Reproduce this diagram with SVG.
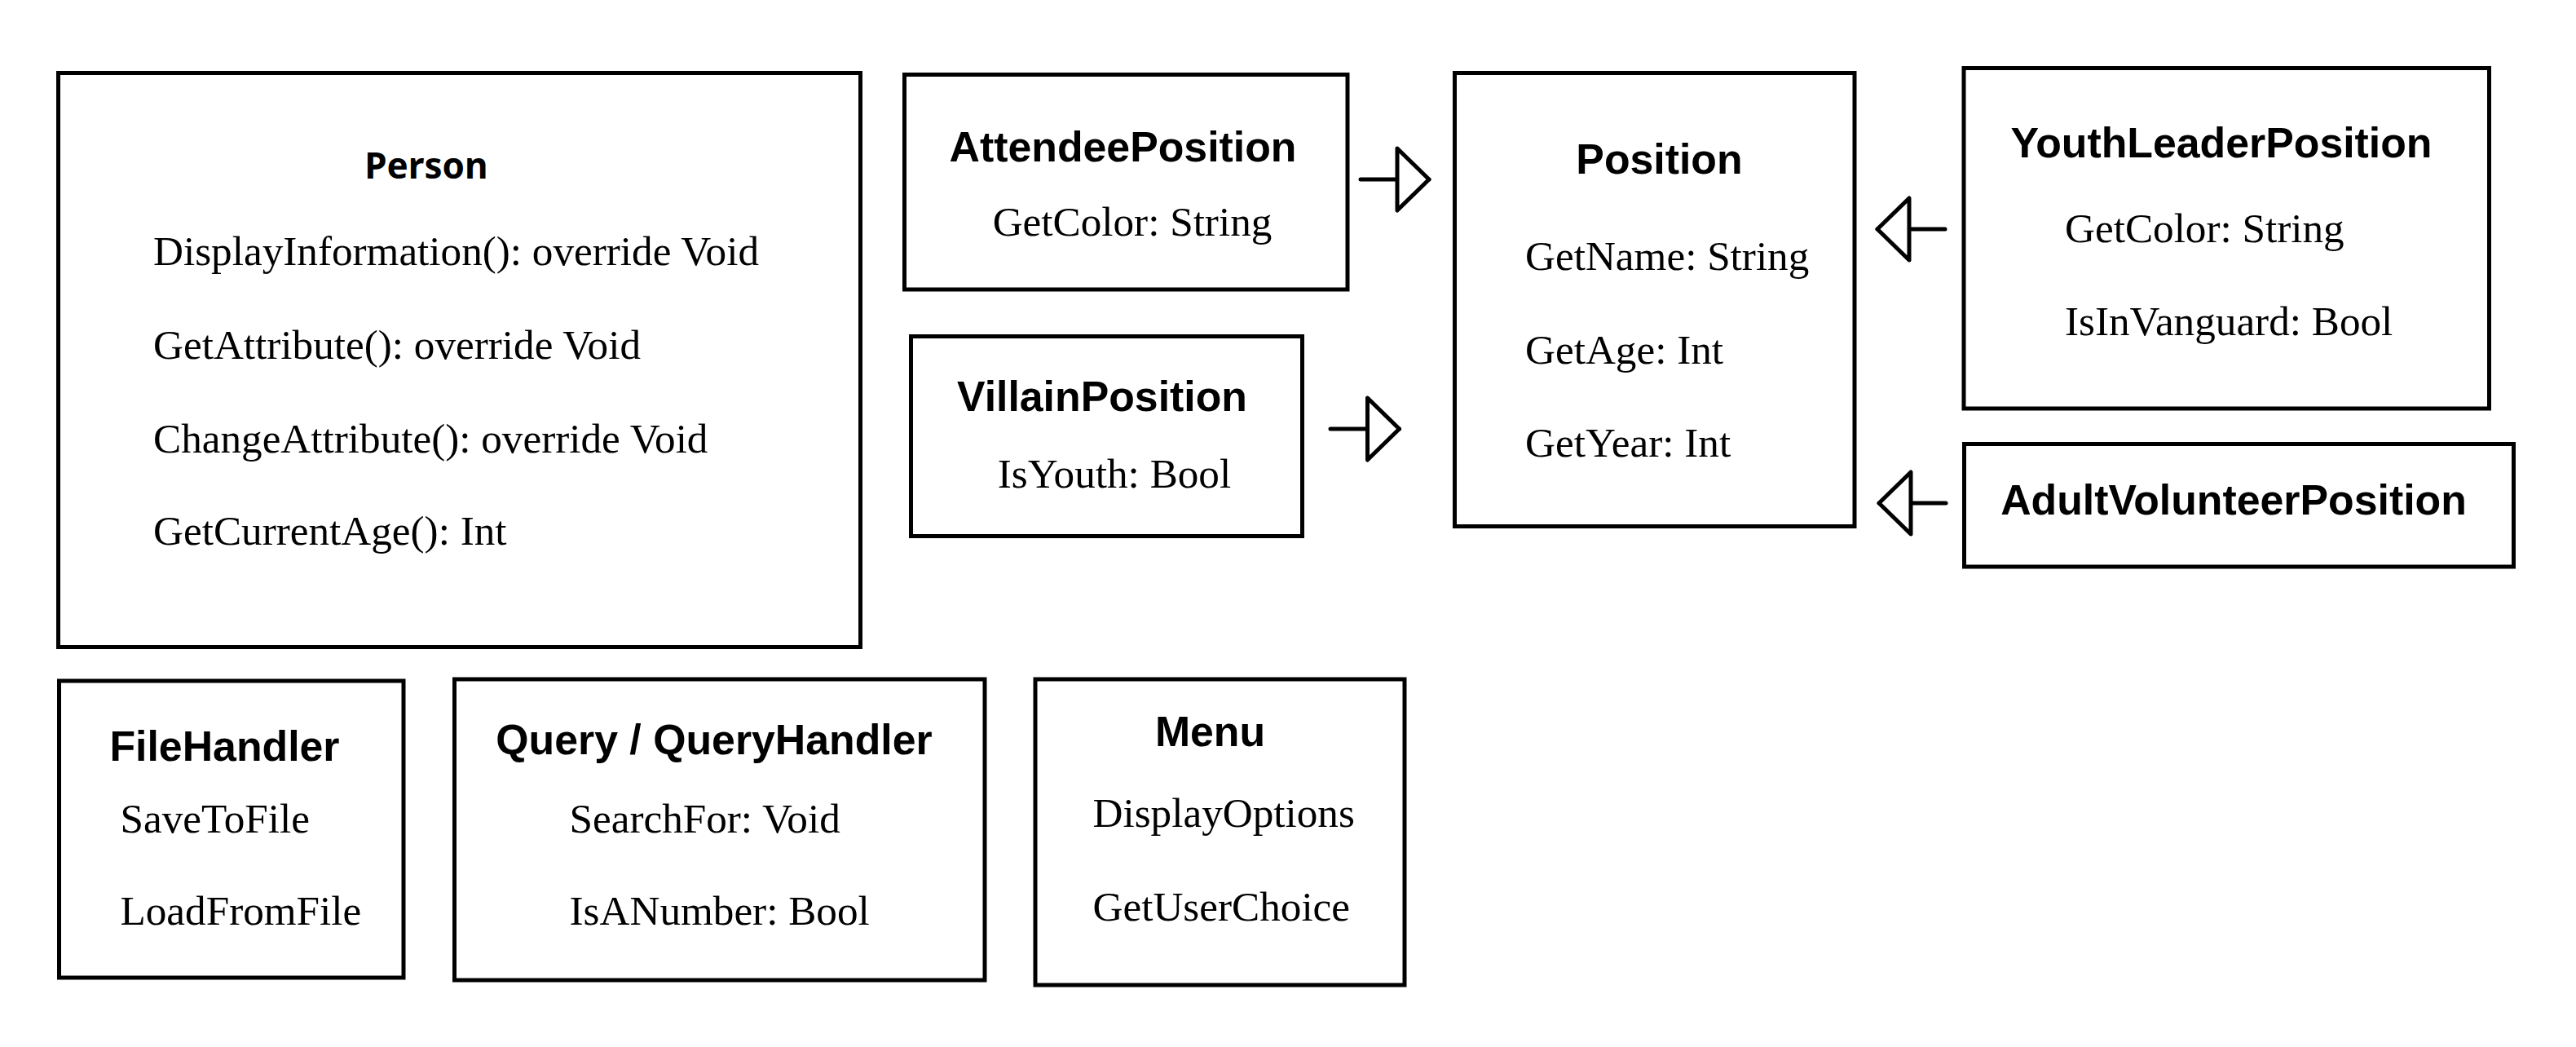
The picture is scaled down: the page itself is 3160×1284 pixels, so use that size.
<svg xmlns="http://www.w3.org/2000/svg" width="3160" height="1284" viewBox="0 0 3160 1284">
<style>
  .box { fill: #ffffff; stroke: #000000; stroke-width: 5; }
  .title { font-family: "Liberation Sans", Arial, sans-serif; font-weight: bold; font-size: 51.8px; fill: #000000; text-anchor: middle; }
  .ptitle { font-family: "Noto Sans", "Open Sans", sans-serif; font-weight: bold; font-size: 44px; fill: #000000; text-anchor: middle; }
  .attr { font-family: "Liberation Serif", "Times New Roman", serif; font-size: 51.2px; fill: #000000; }
  .mid { text-anchor: middle; }
  .conn { fill: none; stroke: #000000; stroke-width: 5; stroke-linecap: round; }
</style>
<defs>
  <marker id="hollow" markerUnits="userSpaceOnUse" viewBox="-5 -45 50 90" markerWidth="50" markerHeight="90" refX="39" refY="0" orient="auto">
    <path d="M0,-38 L39,0 L0,38 Z" fill="#ffffff" stroke="#000000" stroke-width="5" stroke-linejoin="round"/>
  </marker>
</defs>
<rect x="0" y="0" width="3160" height="1284" fill="#ffffff"/>

<g id="person">
  <rect class="box" x="71.5" y="89.5" width="984" height="704"/>
  <text class="ptitle" x="523" y="219">Person</text>
  <text class="attr" x="188" y="325">DisplayInformation(): override Void</text>
  <text class="attr" x="188" y="440">GetAttribute(): override Void</text>
  <text class="attr" x="188" y="555">ChangeAttribute(): override Void</text>
  <text class="attr" x="188" y="668">GetCurrentAge(): Int</text>
</g>

<g id="attendeeposition">
  <rect class="box" x="1109.5" y="91.5" width="543.5" height="263.5"/>
  <text class="title" x="1377.5" y="198">AttendeePosition</text>
  <text class="attr mid" x="1389" y="289">GetColor: String</text>
</g>

<g id="villainposition">
  <rect class="box" x="1117.5" y="412.5" width="480" height="245"/>
  <text class="title" x="1352" y="503.5">VillainPosition</text>
  <text class="attr mid" x="1367" y="598">IsYouth: Bool</text>
</g>

<g id="position">
  <rect class="box" x="1784.5" y="89.5" width="490.5" height="556"/>
  <text class="title" x="2035.5" y="213">Position</text>
  <text class="attr" x="1871" y="331">GetName: String</text>
  <text class="attr" x="1871" y="445.5">GetAge: Int</text>
  <text class="attr" x="1871" y="560">GetYear: Int</text>
</g>

<g id="youthleaderposition">
  <rect class="box" x="2409" y="83.5" width="644.5" height="417.5"/>
  <text class="title" x="2725" y="192.5">YouthLeaderPosition</text>
  <text class="attr" x="2533" y="296.5">GetColor: String</text>
  <text class="attr" x="2533" y="411">IsInVanguard: Bool</text>
</g>

<g id="adultvolunteerposition">
  <rect class="box" x="2409.5" y="544.5" width="674" height="150.5"/>
  <text class="title" x="2740" y="631">AdultVolunteerPosition</text>
</g>

<g id="filehandler">
  <rect class="box" x="72.5" y="835" width="422.5" height="364"/>
  <text class="title" x="275.5" y="933">FileHandler</text>
  <text class="attr" x="147.5" y="1020.5">SaveToFile</text>
  <text class="attr" x="147.5" y="1134">LoadFromFile</text>
</g>

<g id="queryhandler">
  <rect class="box" x="557.5" y="833" width="650.5" height="369"/>
  <text class="title" x="876" y="925">Query / QueryHandler</text>
  <text class="attr" x="698.5" y="1020.5">SearchFor: Void</text>
  <text class="attr" x="698.5" y="1134">IsANumber: Bool</text>
</g>

<g id="menu">
  <rect class="box" x="1270" y="833" width="453" height="375"/>
  <text class="title" x="1484.5" y="915">Menu</text>
  <text class="attr" x="1340.5" y="1014">DisplayOptions</text>
  <text class="attr" x="1340.5" y="1128.5">GetUserChoice</text>
</g>

<g id="connectors">
  <path class="conn" d="M1669,220 L1753,220" marker-end="url(#hollow)"/>
  <path class="conn" d="M1632,526 L1716.5,526" marker-end="url(#hollow)"/>
  <path class="conn" d="M2386,281 L2303,281" marker-end="url(#hollow)"/>
  <path class="conn" d="M2387,617 L2305,617" marker-end="url(#hollow)"/>
</g>
</svg>
